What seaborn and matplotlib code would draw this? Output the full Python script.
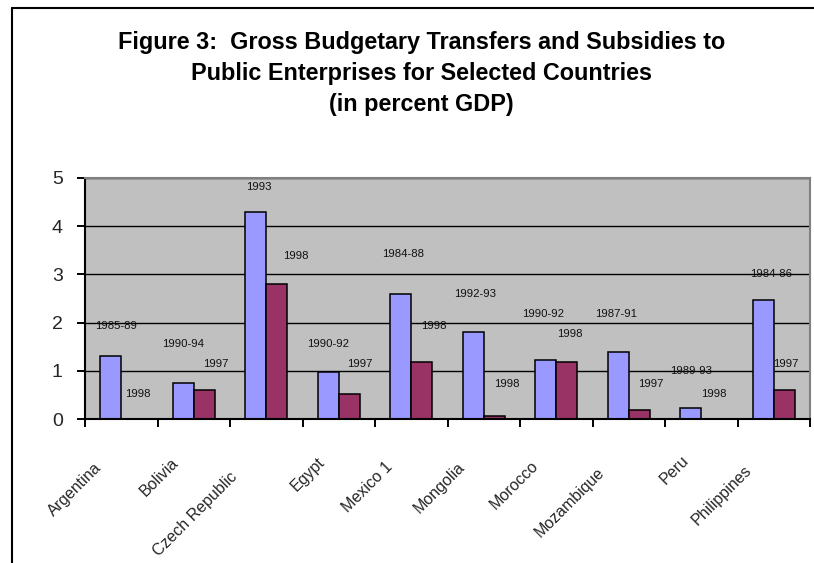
import numpy as np
import pandas as pd
import matplotlib
matplotlib.use("Agg")
import matplotlib.pyplot as plt
import seaborn as sns
from matplotlib.transforms import ScaledTranslation, blended_transform_factory
from matplotlib.lines import Line2D
from matplotlib.font_manager import FontProperties

# ---------------- data ----------------
countries = ["Argentina", "Bolivia", "Czech Republic", "Egypt", "Mexico 1",
             "Mongolia", "Morocco", "Mozambique", "Peru", "Philippines"]
early_values = [1.30, 0.76, 4.29, 0.97, 2.59, 1.80, 1.22, 1.39, 0.23, 2.46]
late_values = [0.00, 0.60, 2.80, 0.52, 1.18, 0.06, 1.18, 0.19, 0.00, 0.60]
early_labels = ["1985-89", "1990-94", "1993", "1990-92", "1984-88",
                "1992-93", "1990-92", "1987-91", "1989-93", "1984-86"]
late_labels = ["1998", "1997", "1998", "1997", "1998",
               "1998", "1998", "1997", "1998", "1997"]
y_ticks = [0, 1, 2, 3, 4, 5]

# ---------------- layout of the hand-placed data labels ----------------
early_label_y = [1.93, 1.56, 4.80, 1.56, 3.42, 2.59, 2.18, 2.18, 1.00, 3.00]
late_label_y = [0.52, 1.15, 3.38, 1.15, 1.93, 0.73, 1.77, 0.73, 0.52, 1.15]
early_label_dx_px = [5, 0, 3, 0, 2, 2, -3, -2, 0, 8]
late_label_dx_px = [6, 12, 19, 11, 12, 13, 3, 12, 2, 2]

df = pd.DataFrame({
    "Country": countries * 2,
    "Value": early_values + late_values,
    "Period": ["Early"] * len(countries) + ["Late"] * len(countries),
})

sns.set_style("white")
plt.rcParams["font.family"] = ["Liberation Sans", "DejaVu Sans"]

W, H = 814, 563
fig = plt.figure(figsize=(W / 100, H / 100), dpi=100)
fig.patch.set_facecolor("white")

ax_left, ax_right, ax_top, ax_bottom = 85, 810, 177.7, 419.3
ax = fig.add_axes([ax_left / W, 1 - ax_bottom / H,
                   (ax_right - ax_left) / W, (ax_bottom - ax_top) / H])
ax.set_facecolor("#C0C0C0")

blue = "#9999FF"
plum = "#993366"
sns.barplot(data=df, x="Country", y="Value", hue="Period",
            palette=[blue, plum], width=0.58, gap=0,
            edgecolor="black", linewidth=1.1, saturation=1,
            legend=False, ax=ax, zorder=3)

ax.set_xlim(-0.5, len(countries) - 0.5)
ax.set_ylim(0, 5)
ax.set_yticks(y_ticks)
ax.set_yticklabels([str(v) for v in y_ticks], fontsize=14)
ax.set_xticks(np.arange(-0.5, len(countries), 1.0))
ax.set_xticklabels([])
ax.set_xlabel("")
ax.set_ylabel("")
ax.tick_params(axis="y", which="major", left=True, direction="out", length=6,
               width=1.4, color="black", pad=10)
ax.tick_params(axis="x", which="major", bottom=True, direction="out", length=6,
               width=1.4, color="black")

ax.yaxis.grid(True, color="black", linewidth=1.0)
ax.xaxis.grid(False)
ax.set_axisbelow(True)

for side in ["left", "bottom"]:
    ax.spines[side].set_color("black")
    ax.spines[side].set_linewidth(1.5)
for side in ["top", "right"]:
    ax.spines[side].set_color("#808080")
    ax.spines[side].set_linewidth(1.5)
for sp in ax.spines.values():
    sp.set_zorder(5)

# ---------------- data labels ----------------
def px(dx, dy):
    return ScaledTranslation(dx / 100, dy / 100, fig.dpi_scale_trans)

containers = ax.containers
for cont, labels, ys, dxs in [(containers[0], early_labels, early_label_y, early_label_dx_px),
                              (containers[1], late_labels, late_label_y, late_label_dx_px)]:
    for bar, lab, yv, dx in zip(cont.patches, labels, ys, dxs):
        xc = bar.get_x() + bar.get_width() / 2
        ax.text(xc, yv, lab, fontsize=8.2, color="#111111", ha="center", va="center",
                transform=ax.transData + px(dx, 0), zorder=6)

# ---------------- rotated category labels ----------------
renderer = fig.canvas.get_renderer()
fp = FontProperties(family="Liberation Sans", size=11.5)
btrans = blended_transform_factory(ax.transData, ax.transAxes)
c45 = np.cos(np.pi / 4)
for i, name in enumerate(countries):
    w, h, d = renderer.get_text_width_height_descent(name, fp, ismath=False)
    t = 27 + 0.31 * w
    perp = 17
    ox = -c45 * t + c45 * perp
    oy = -(c45 * t + c45 * perp)
    ax.text(i, 0, name, fontproperties=fp, rotation=45, rotation_mode="anchor",
            ha="right", va="center", transform=btrans + px(ox, oy), clip_on=False)

# ---------------- title ----------------
title_lines = ["Figure 3:  Gross Budgetary Transfers and Subsidies to",
               "Public Enterprises for Selected Countries",
               "(in percent GDP)"]
for line, base in zip(title_lines, [48.5, 79.5, 110.5]):
    fig.text(421.5 / W, 1 - base / H, line, ha="center", va="baseline",
             fontsize=16.8, fontweight="bold", color="black")

# ---------------- chart-area frame ----------------
fig.add_artist(Line2D([12 / W, 12 / W], [0, 1 - 7.5 / H], color="black",
                      linewidth=1.5, transform=fig.transFigure))
fig.add_artist(Line2D([12 / W, 1], [1 - 7.5 / H, 1 - 7.5 / H], color="black",
                      linewidth=1.5, transform=fig.transFigure))

fig.savefig("out.png", dpi=100)
